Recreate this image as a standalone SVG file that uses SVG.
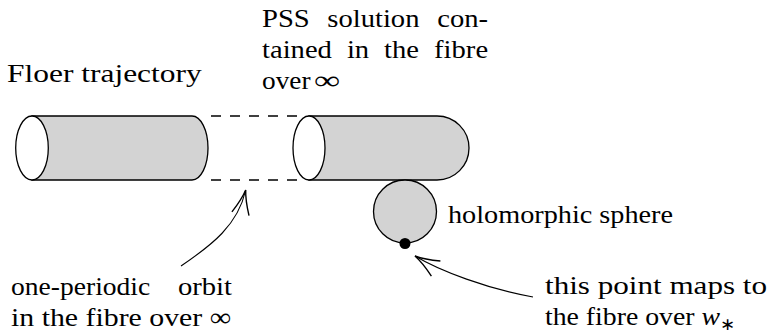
<svg xmlns="http://www.w3.org/2000/svg" width="770" height="333" viewBox="0 0 770 333">
<defs>
<marker id="ah" markerUnits="userSpaceOnUse" markerWidth="30" markerHeight="30" refX="0" refY="0" viewBox="-22 -11 24 22" orient="auto" overflow="visible">
<path d="M-19.5,-7 Q-8,-1.5 0,0 Q-8,1.5 -19.5,7" fill="none" stroke="#000" stroke-width="1.1"/>
</marker>
</defs>
<rect width="770" height="333" fill="#fff"/>
<g id="floer-cylinder" stroke="#000" stroke-width="1.3">
<path fill="#d3d3d3" d="M32,116 H192 A16,32 0 0 1 192,180 H32 Z"/>
<ellipse fill="#fff" cx="32" cy="148" rx="16.3" ry="32"/>
</g>
<g id="pss-cylinder" stroke="#000" stroke-width="1.3">
<path fill="#d3d3d3" d="M309,116 H437 A32,32 0 0 1 437,180 H309 Z"/>
<ellipse fill="#fff" cx="309" cy="148" rx="16" ry="32"/>
</g>
<g id="sphere">
<circle fill="#d3d3d3" stroke="#000" stroke-width="1.3" cx="405" cy="211.5" r="31.5"/>
<circle cx="405" cy="243.5" r="5.5" fill="#000"/>
</g>
<g id="connectors" fill="none" stroke="#000">
<g stroke-width="1.3" stroke-dasharray="10 9">
<path d="M211,116 H300"/>
<path d="M211,180 H300"/>
</g>
<g stroke-width="1.1" marker-end="url(#ah)">
<path d="M181,266 C212,245 238,225 245.7,190"/>
<path d="M533,297 C488,289 440,271 415,256"/>
</g>
</g>
<g id="labels" fill="#000">
<text font-family="Liberation Serif" font-size="26" transform="translate(7,82) scale(1.21,1)">Floer trajectory</text>
<text font-family="Liberation Serif" font-size="26" transform="translate(262,27) scale(1.1,1)">PSS</text>
<text font-family="Liberation Serif" font-size="26" transform="translate(327.3,27) scale(1.1,1)">solution</text>
<text font-family="Liberation Serif" font-size="26" transform="translate(437.2,27) scale(1.1,1)">con-</text>
<text font-family="Liberation Serif" font-size="26" transform="translate(262,58) scale(1.1,1)">tained</text>
<text font-family="Liberation Serif" font-size="26" transform="translate(346.9,58) scale(1.1,1)">in</text>
<text font-family="Liberation Serif" font-size="26" transform="translate(384.1,58) scale(1.1,1)">the</text>
<text font-family="Liberation Serif" font-size="26" transform="translate(434.1,58) scale(1.1,1)">fibre</text>
<text font-family="Liberation Serif" font-size="26" transform="translate(262,89) scale(1.05,1)">over</text>
<text font-family="Liberation Serif" font-size="26" transform="translate(314,89) scale(1.4,1)">∞</text>
<text font-family="Liberation Serif" font-size="26" x="448" y="223" textLength="225" lengthAdjust="spacingAndGlyphs">holomorphic sphere</text>
<text font-family="Liberation Serif" font-size="26" transform="translate(11,295) scale(1.06,1)">one-periodic</text>
<text font-family="Liberation Serif" font-size="26" transform="translate(178,295) scale(1.1,1)">orbit</text>
<text font-family="Liberation Serif" font-size="26" transform="translate(11,326) scale(1.147,1)">in the fibre over ∞</text>
<text font-family="Liberation Serif" font-size="26" x="545" y="294" textLength="222" lengthAdjust="spacingAndGlyphs">this point maps to</text>
<text font-family="Liberation Serif" font-size="26" x="545" y="325" textLength="190" lengthAdjust="spacingAndGlyphs">the fibre over <tspan font-style="italic">w</tspan><tspan font-size="17" dy="5">∗</tspan></text>
</g>
</svg>
